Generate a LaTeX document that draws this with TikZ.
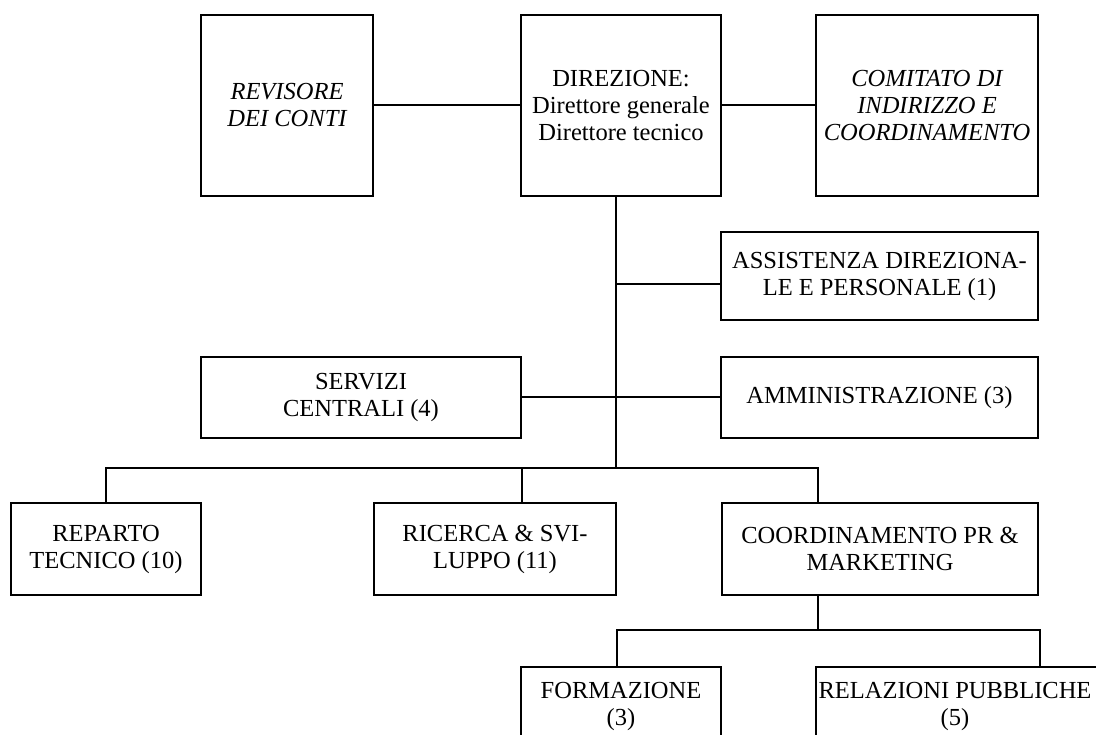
\documentclass[tikz,border=0pt]{standalone}
\usepackage{fontspec}
\setmainfont{Liberation Serif}
\begin{document}
\begin{tikzpicture}[x=1pt,y=-1pt,
  box/.style={draw=black, line width=2.3pt, inner sep=0pt, align=center,
    font=\fontsize{24.5}{27}\selectfont},
  ibox/.style={box, font=\fontsize{24.5}{27}\selectfont\itshape},
  conn/.style={draw=black, line width=2pt}]
\useasboundingbox (0,0) rectangle (1096,735);
\clip (0,0) rectangle (1096,735);
% top row
\node[ibox, minimum width=172pt, minimum height=181pt] (rev) at (287,105.5) {REVISORE\\DEI CONTI};
\node[box, minimum width=200pt, minimum height=181pt] (dir) at (621,105.5) {DIREZIONE:\\Direttore generale\\Direttore tecnico};
\node[ibox, minimum width=222pt, minimum height=181pt] (com) at (927,105.5) {COMITATO DI\\INDIRIZZO E\\COORDINAMENTO};
% staff
\node[box, minimum width=317pt, minimum height=88pt] (ass) at (879.5,276) {ASSISTENZA DIREZIONA-\\LE E PERSONALE (1)};
\node[box, minimum width=320pt, minimum height=81pt] (ser) at (361,397.5) {SERVIZI\\CENTRALI (4)};
\node[box, minimum width=317pt, minimum height=81pt] (amm) at (879.5,397.5) {AMMINISTRAZIONE (3)};
% third row
\node[box, minimum width=190pt, minimum height=92pt] (rep) at (106,549) {REPARTO\\TECNICO (10)};
\node[box, minimum width=242pt, minimum height=92pt] (ric) at (495,549) {RICERCA \& SVI-\\LUPPO (11)};
\node[box, minimum width=316pt, minimum height=92pt] (coo) at (880,549) {COORDINAMENTO PR \&\\MARKETING};
% bottom row
\node[box, minimum width=200pt, minimum height=78pt] (for) at (621,706) {FORMAZIONE\\(3)};
\node[box, minimum width=448pt, minimum height=78pt] (rel) at (1040,706) {};
\node[inner sep=0pt, align=center, font=\fontsize{24.5}{27}\selectfont] (relt) at (955,706) {RELAZIONI PUBBLICHE\\(5)};
% junctions
\coordinate (tr) at ([xshift=-5pt]dir.south);
\coordinate (ja) at (616,284);
\coordinate (bus) at (616,468);
\coordinate (bl) at (106,468);
\coordinate (rd) at (522,468);
\coordinate (cd) at (818,468);
\coordinate (sb) at (818,630);
\coordinate (fd) at (617,630);
% connectors
\draw[conn] (rev.east) -- (dir.west);
\draw[conn] (dir.east) -- (com.west);
\draw[conn] (tr) -- (bus);
\draw[conn] (ja) -- (ass.west |- ja);
\draw[conn] (ser.east) -- (amm.west);
\draw[conn] (rep.north) -- (bl) -- (cd) -- (cd |- coo.north);
\draw[conn] (rd) -- (rd |- ric.north);
\draw[conn] (cd |- coo.south) -- (sb);
\draw[conn] (fd |- for.north) -- (fd) -- (rel.north |- sb) -- (rel.north);
\end{tikzpicture}
\end{document}
